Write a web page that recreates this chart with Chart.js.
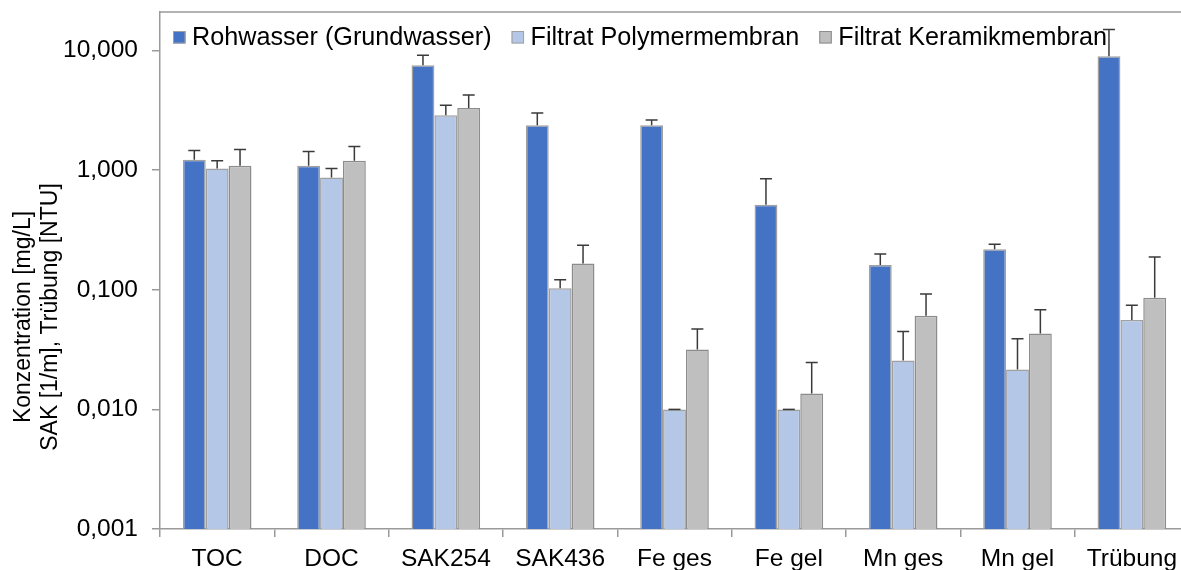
<!DOCTYPE html>
<html>
<head>
<meta charset="utf-8">
<script src="https://cdn.jsdelivr.net/npm/chart.js@4.4.0/dist/chart.umd.min.js"></script>
<style>
  html, body { margin: 0; padding: 0; background: #fff; overflow: hidden; }
  #wrap { width: 1195px; height: 570px; }
</style>
</head>
<body>
<div id="wrap"><canvas id="chart" width="1195" height="570"></canvas></div>
<script>
// Kategorien und Messwerte (log. Achse)
const kategorien = ["TOC", "DOC", "SAK254", "SAK436", "Fe ges", "Fe gel", "Mn ges", "Mn gel", "Trübung"];

const rohwasser      = [1.22, 1.09, 7.53, 2.37, 2.37, 0.513, 0.161, 0.218, 8.95];
const polymer        = [1.03, 0.87, 2.88, 0.103, 0.010, 0.010, 0.0256, 0.0215, 0.0559];
const keramik        = [1.09, 1.20, 3.31, 0.166, 0.0316, 0.01355, 0.0607, 0.043, 0.0859];

// Fehlerbalken (nur nach oben)
const rohwasserFehler = [0.24, 0.34, 1.60, 0.64, 0.25, 0.333, 0.038, 0.022, 6.01];
const polymerFehler   = [0.17, 0.16, 0.61, 0.018, 0, 0, 0.0191, 0.0175, 0.0182];
const keramikFehler   = [0.40, 0.38, 0.94, 0.070, 0.0154, 0.0111, 0.0313, 0.025, 0.1018];

const yTicks = [0.001, 0.01, 0.1, 1, 10];

const FONT = "'Liberation Sans', Arial, sans-serif";
const achsenFarbe = '#9a9a9a';

// Fehlerbalken zeichnen
const errorBars = {
    id: 'errorBars',
    afterDatasetsDraw(chart) {
        const ctx = chart.ctx;
        const y = chart.scales.y;
        ctx.save();
        ctx.strokeStyle = '#3a3a3a';
        ctx.lineWidth = 1.5;
        chart.data.datasets.forEach((ds, i) => {
            const meta = chart.getDatasetMeta(i);
            meta.data.forEach((bar, j) => {
                const top = y.getPixelForValue(ds.data[j] + ds.fehler[j]);
                ctx.beginPath();
                ctx.moveTo(bar.x, bar.y);
                ctx.lineTo(bar.x, top);
                ctx.moveTo(bar.x - 6, top);
                ctx.lineTo(bar.x + 6, top);
                ctx.stroke();
            });
        });
        ctx.restore();
    }
};

// Rahmen oben, Legende im Diagramm, Achsentitel
const deko = {
    id: 'deko',
    afterDraw(chart) {
        const ctx = chart.ctx;
        const a = chart.chartArea;
        ctx.save();
        ctx.strokeStyle = achsenFarbe;
        ctx.lineWidth = 1.5;
        ctx.beginPath();
        ctx.moveTo(a.left, a.top);
        ctx.lineTo(a.right, a.top);
        ctx.lineTo(a.right, a.bottom);
        ctx.stroke();

        // Legende
        ctx.font = '25.2px ' + FONT;
        ctx.textBaseline = 'middle';
        ctx.fillStyle = '#000';
        let x = 173;
        const ly = 37;
        chart.data.datasets.forEach(ds => {
            ctx.fillStyle = ds.backgroundColor;
            ctx.fillRect(x, ly - 6, 12.5, 12.5);
            ctx.strokeStyle = ds.borderColor;
            ctx.lineWidth = 1;
            ctx.strokeRect(x + 0.5, ly - 5.5, 11.5, 11.5);
            ctx.fillStyle = '#000';
            ctx.fillText(ds.label, x + 19, ly + 1);
            x += 19 + ctx.measureText(ds.label).width + 20;
        });

        // y-Titel
        ctx.font = '23px ' + FONT;
        ctx.textAlign = 'center';
        ctx.textBaseline = 'middle';
        ctx.translate(37, 317);
        ctx.rotate(-Math.PI / 2);
        ctx.fillText('Konzentration [mg/L]', 0, -13.5);
        ctx.fillText('SAK [1/m], Trübung [NTU]', 0, 13.5);
        ctx.restore();
    }
};

new Chart(document.getElementById('chart'), {
    type: 'bar',
    data: {
        labels: kategorien,
        datasets: [{
            label: 'Rohwasser (Grundwasser)',
            data: rohwasser,
            fehler: rohwasserFehler,
            backgroundColor: '#4472C4',
            borderColor: '#a0a0a0',
            borderWidth: 1.5
        }, {
            label: 'Filtrat Polymermembran',
            data: polymer,
            fehler: polymerFehler,
            backgroundColor: '#B4C7E7',
            borderColor: '#a0a0a0',
            borderWidth: 1.5
        }, {
            label: 'Filtrat Keramikmembran',
            data: keramik,
            fehler: keramikFehler,
            backgroundColor: '#BFBFBF',
            borderColor: '#8c8c8c',
            borderWidth: 1.5
        }]
    },
    options: {
        responsive: false,
        animation: false,
        devicePixelRatio: 1,
        layout: { padding: { top: 12, right: 6, left: 0, bottom: 0 } },
        datasets: { bar: { categoryPercentage: 0.6, barPercentage: 1.0 } },
        plugins: {
            legend: { display: false },
            tooltip: { enabled: false }
        },
        scales: {
            x: {
                afterFit(scale) { scale.height = 41; scale.paddingLeft = 0; scale.paddingRight = 0; },
                grid: { offset: true, drawOnChartArea: false, drawTicks: true, tickLength: 8, color: achsenFarbe, lineWidth: 1.5 },
                border: { display: true, color: achsenFarbe, width: 1.5 },
                ticks: { color: '#000', padding: 8, maxRotation: 0, autoSkip: false, font: { family: FONT, size: 24.5 } }
            },
            y: {
                type: 'logarithmic',
                min: 0.001,
                max: 21,
                afterFit(scale) { scale.width = 160; scale.paddingTop = 0; scale.paddingBottom = 0; },
                afterBuildTicks(scale) { scale.ticks = yTicks.map(v => ({ value: v })); },
                grid: { drawOnChartArea: false, drawTicks: true, tickLength: 8, color: achsenFarbe, lineWidth: 1.5 },
                border: { display: true, color: achsenFarbe, width: 1.5 },
                ticks: {
                    color: '#000',
                    padding: 14,
                    font: { family: FONT, size: 24.5 },
                    callback: v => v.toFixed(3).replace('.', ',')
                }
            }
        }
    },
    plugins: [errorBars, deko]
});
</script>
</body>
</html>
